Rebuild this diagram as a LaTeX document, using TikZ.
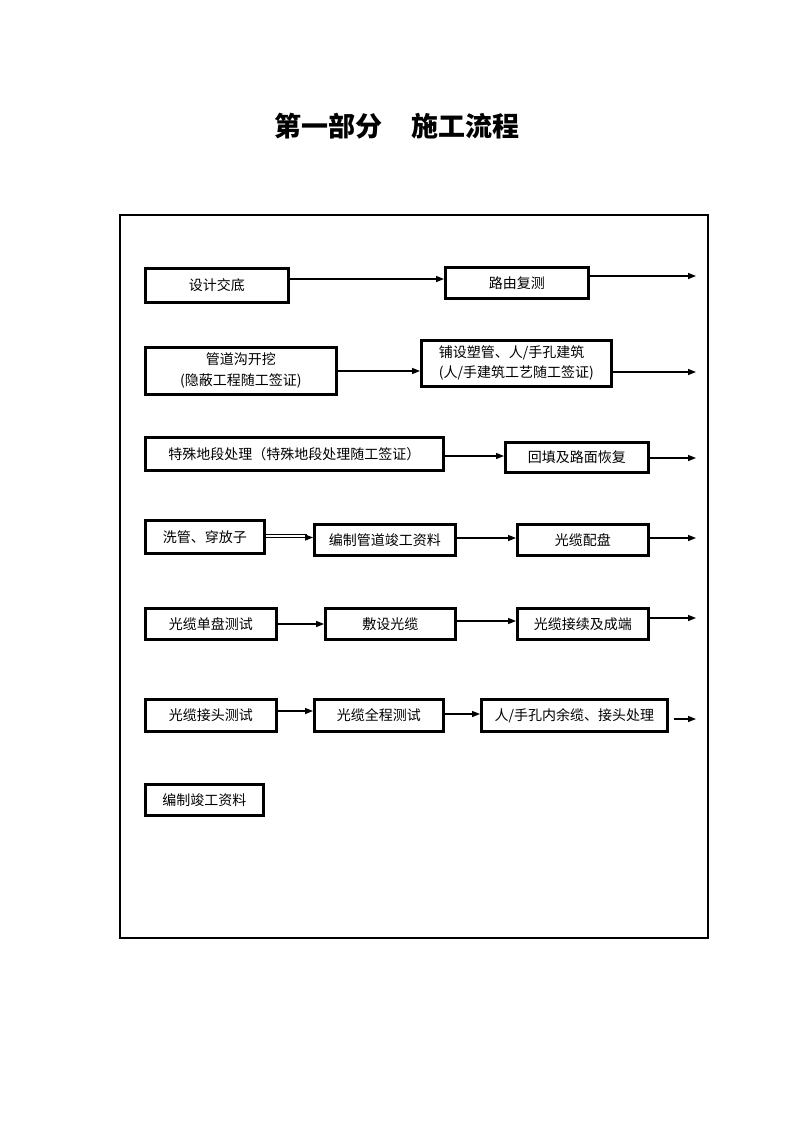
\documentclass[tikz,border=0pt]{standalone}
\usepackage{fontspec}
\newfontfamily\cjk{Noto Sans CJK SC}
\usetikzlibrary{arrows.meta}
\begin{document}
\begin{tikzpicture}[x=1pt,y=-1pt,
  font=\cjk\fontsize{14}{19}\selectfont,
  box/.style={draw=black, line width=2.6pt, inner sep=0pt, anchor=north west},
  arr/.style={line width=1.4pt, -{Triangle[length=8pt,width=6pt]}},
  frame/.style={line width=2.8pt}]
\useasboundingbox (0,0) rectangle (793,1122);
\node[font=\cjk\bfseries\fontsize{27}{31}\selectfont] (title) at (397,126) {第一部分\hspace{30pt}施工流程};
\draw[frame] (120,215) rectangle (708,938);
\coordinate (fr) at (696,0);
% row 1
\node[box, minimum width=143, minimum height=34] (n1) at (144,267) {设计交底};
\node[box, minimum width=143, minimum height=31] (n2) at (444,266) {路由复测};
\draw[arr] (n1.east |- 0,279) -- (n2.west |- 0,279);
\draw[arr] (n2.east |- 0,276) -- (fr |- 0,276);
% row 2
\node[box, minimum width=191, minimum height=47, align=center, font=\cjk\fontsize{14}{21}\selectfont] (n3) at (144,346) {管道沟开挖\\(隐蔽工程随工签证)};
\node[box, minimum width=190, minimum height=46, align=left, font=\cjk\fontsize{14}{20}\selectfont] (n4) at (420,339) {铺设塑管、人/手孔建筑\\(人/手建筑工艺随工签证)\hspace{12pt}};
\draw[arr] (n3.east |- 0,371) -- (n4.west |- 0,371);
\draw[arr] (n4.east |- 0,372) -- (fr |- 0,372);
% row 3
\node[box, minimum width=298, minimum height=33] (n5) at (144,436) {特殊地段处理（特殊地段处理随工签证）};
\node[box, minimum width=143, minimum height=30] (n6) at (504,441) {回填及路面恢复};
\draw[arr] (n5.east |- 0,456) -- (n6.west |- 0,456);
\draw[arr] (n6.east |- 0,458) -- (fr |- 0,458);
% row 4
\node[box, minimum width=119, minimum height=33] (n7) at (144,519) {洗管、穿放子};
\node[box, minimum width=141, minimum height=31] (n8) at (313,523) {编制管道竣工资料};
\node[box, minimum width=131, minimum height=31] (n9) at (516,523) {光缆配盘};
\draw[line width=1pt] (n7.east |- 0,534) -- ([xshift=-6pt]n8.west |- 0,534);
\draw[line width=1pt, -{Triangle[length=8pt,width=6pt]}] (n7.east |- 0,537.5) -- (n8.west |- 0,537.5);
\draw[arr] (n8.east |- 0,538) -- (n9.west |- 0,538);
\draw[arr] (n9.east |- 0,538) -- (fr |- 0,538);
% row 5
\node[box, minimum width=131, minimum height=31] (n10) at (144,607) {光缆单盘测试};
\node[box, minimum width=130, minimum height=31] (n11) at (324,607) {敷设光缆};
\node[box, minimum width=131, minimum height=31] (n12) at (516,607) {光缆接续及成端};
\draw[arr] (n10.east |- 0,624) -- (n11.west |- 0,624);
\draw[arr] (n11.east |- 0,621) -- (n12.west |- 0,621);
\draw[arr] (n12.east |- 0,618) -- (fr |- 0,618);
% row 6
\node[box, minimum width=131, minimum height=32] (n13) at (144,698) {光缆接头测试};
\node[box, minimum width=129, minimum height=32] (n14) at (313,698) {光缆全程测试};
\node[box, minimum width=186, minimum height=32] (n15) at (480,698) {人/手孔内余缆、接头处理};
\draw[arr] (n13.east |- 0,711) -- (n14.west |- 0,711);
\draw[arr] (n14.east |- 0,714) -- (n15.west |- 0,714);
\draw[arr] ([xshift=5pt]n15.east |- 0,719) -- (fr |- 0,719);
% row 7
\node[box, minimum width=118, minimum height=31] (n16) at (144,783) {编制竣工资料};
\end{tikzpicture}
\end{document}
